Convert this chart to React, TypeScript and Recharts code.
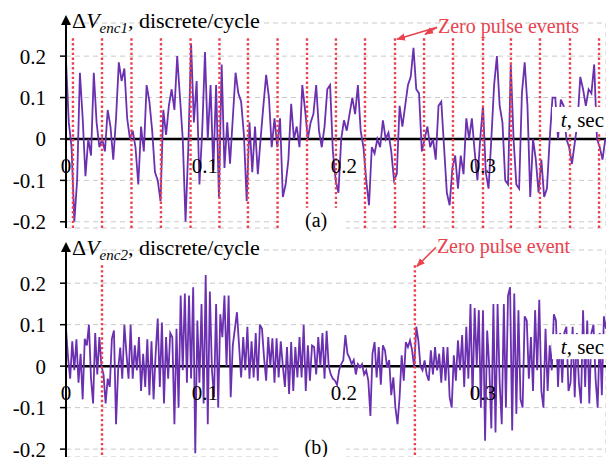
import React from 'react';
import { LineChart, Line, XAxis, YAxis, CartesianGrid, ReferenceLine, ReferenceDot } from 'recharts';

// sampling steps of the two recordings, sec
const step1 = 0.002;
const step2 = 0.0015;

// encoder 1 speed error, discrete/cycle
const enc1Values = [
  0.19, 0.04, -0.02, -0.2, -0.1, 0.16, 0.05, -0.09, 0.0, -0.04,
  0.16, 0.04, -0.02, 0.0, -0.03, 0.07, 0.03, -0.05, 0.05, 0.185,
  0.14, 0.17, 0.05, 0.0, 0.02, -0.02, -0.11, 0.03, -0.03, 0.13,
  0.09, 0.02, -0.08, -0.1, -0.15, 0.07, 0.01, 0.08, 0.12, 0.07,
  0.2, 0.1, 0.0, -0.2, -0.02, 0.23, 0.04, 0.14, -0.11, 0.02,
  0.21, 0.0, 0.13, -0.075, 0.13, -0.14, 0.18, -0.07, 0.04, -0.06,
  0.05, 0.16, 0.11, 0.09, 0.01, -0.15, 0.04, -0.08, 0.03, -0.085,
  0.0, 0.08, 0.155, 0.1, -0.02, 0.05, -0.02, 0.05, -0.14, -0.11,
  -0.05, 0.085, 0.0, 0.03, -0.02, 0.13, 0.07, 0.0, 0.04, 0.06,
  0.13, 0.02, -0.02, 0.03, 0.12, 0.13, -0.03, -0.1, -0.13, 0.0,
  0.045, 0.02, 0.06, 0.1, 0.06, 0.13, 0.02, -0.02, -0.1, -0.16,
  -0.02, -0.035, 0.0, -0.02, 0.045, 0.0, 0.015, -0.03, -0.1, -0.085,
  0.08, 0.03, 0.08, 0.13, 0.15, 0.22, 0.12, 0.11, -0.03, 0.0,
  0.03, -0.02, 0.0, -0.05, 0.08, 0.09, -0.02, -0.13, -0.16, -0.07,
  -0.04, -0.12, -0.04, -0.085, 0.05, 0.0, 0.05, -0.03, -0.1, 0.0,
  0.08, -0.08, -0.12, 0.0, 0.13, 0.2, 0.08, 0.04, -0.1, -0.11,
  0.18, 0.0, -0.11, -0.12, 0.11, 0.185, 0.08, -0.14, 0.0, -0.05,
  -0.13, -0.05, -0.14, -0.12, 0.0, 0.1, 0.1, 0.0, 0.095, 0.08,
  0.0, -0.02, -0.06, -0.01, 0.04, 0.15, 0.12, 0.08, 0.12, 0.11,
  0.18, 0.0, -0.02, -0.05, 0.0,
];

// encoder 2 speed error, discrete/cycle
const enc2Values = [
  0.09, 0.02, -0.03, 0.06, -0.01, 0.065, -0.04, 0.03, -0.08, 0.066,
  0.05, 0.1, -0.03, -0.09, 0.08, -0.02, 0.07, 0.0, -0.02, -0.09,
  -0.03, -0.05, 0.066, 0.086, -0.14, -0.01, 0.045, -0.03, 0.1, 0.03,
  -0.03, 0.1, -0.03, 0.05, -0.01, 0.07, -0.06, 0.03, -0.05, 0.065,
  -0.07, 0.06, -0.08, 0.03, 0.115, -0.05, 0.105, -0.09, 0.07, -0.03,
  0.08, 0.07, -0.14, 0.09, -0.1, 0.17, -0.01, 0.175, -0.04, 0.17,
  -0.03, 0.19, -0.21, 0.11, -0.04, 0.15, -0.09, 0.22, -0.14, 0.18,
  -0.01, -0.075, 0.15, -0.1, 0.125, 0.07, 0.17, 0.0, 0.17, -0.075,
  0.05, 0.09, 0.13, 0.05, -0.027, 0.07, -0.01, 0.095, -0.03, 0.06,
  -0.027, 0.08, -0.035, 0.1, 0.09, 0.02, -0.035, 0.07, 0.0, 0.067,
  -0.04, 0.067, -0.027, 0.06, 0.0, -0.05, 0.046, -0.067, 0.058, -0.06,
  0.046, -0.027, 0.07, -0.027, 0.1, -0.06, 0.05, -0.035, 0.05, 0.046,
  -0.02, 0.07, 0.0, 0.08, -0.03, 0.085, 0.0, -0.02, -0.03, -0.035,
  -0.045, -0.01, 0.005, 0.014, 0.075, 0.03, 0.02, 0.005, 0.015, -0.02,
  0.005, -0.003, 0.005, -0.02, -0.01, -0.035, -0.12, 0.03, 0.058, -0.027,
  0.046, -0.045, 0.05, 0.038, -0.003, 0.015, -0.07, -0.027, -0.1, -0.14,
  -0.075, 0.026, -0.035, 0.058, 0.046, 0.062, 0.038, -0.003, 0.095, 0.062,
  0.0, -0.01, 0.014, -0.02, -0.035, 0.038, -0.02, 0.046, -0.01, 0.03,
  -0.04, 0.046, -0.035, 0.046, -0.075, -0.1, 0.026, -0.035, 0.062, -0.01,
  0.075, -0.05, 0.095, -0.03, 0.15, -0.08, 0.14, 0.0, 0.135, -0.1,
  0.135, -0.18, 0.086, 0.0, -0.15, 0.15, -0.16, 0.15, -0.04, -0.14,
  0.15, -0.1, 0.17, 0.19, -0.155, 0.175, -0.115, 0.135, -0.08, -0.1,
  0.12, 0.11, -0.03, 0.07, -0.06, 0.135, -0.01, 0.16, -0.06, -0.1,
  0.09, -0.06, 0.05, -0.01, 0.125, 0.11, -0.05, 0.08, -0.04, 0.08,
  0.095, -0.06, -0.04, 0.095, -0.075, 0.08, -0.04, -0.09, 0.135, -0.05,
  0.11, -0.09, 0.08, 0.1, -0.03, -0.1, 0.08, -0.07, 0.12, 0.09,
];

// zero pulse events, sec
const enc1Events = [
  0.005, 0.0259, 0.0471, 0.0683, 0.0896, 0.1104, 0.1309, 0.1522, 0.1734, 0.1942,
  0.2151, 0.2367, 0.2576, 0.2784, 0.3, 0.3201, 0.341, 0.3626, 0.3835,
];
const enc2Events = [0.0259, 0.251];

const xTicks = [0, 0.1, 0.2, 0.3];
const xTickLabels = ['0', '0.1', '0.2', '0.3'];
const yTicks = [-0.2, -0.1, 0, 0.1, 0.2];
const yTickLabels = ['-0.2', '-0.1', '0', '0.1', '0.2'];

const data1 = enc1Values.map((v, i) => ({ t: +(i * step1).toFixed(4), v }));
const data2 = enc2Values.map((v, i) => ({ t: +(i * step2).toFixed(4), v }));

const T_MAX = 0.3885;
const EVENT_TOP = 0.243;
const SERIF = '"Liberation Serif", "Times New Roman", serif';
const RED = '#e8434f';
const PURPLE = '#6b30b0';

interface PanelProps {
  data: { t: number; v: number }[];
  events: number[];
  sub: string;
  tag: string;
  note: string;
  noteAt: number;
  secondArrowAt?: number;
  height: number;
  top: number;
  bottom: number;
  low: number;
}

const Panel: React.FC<PanelProps> = ({ data, events, sub, tag, note, noteAt, secondArrowAt, height, top, bottom, low }) => {
  return (
    <LineChart width={606} height={height} data={data} margin={{ top, right: 0, bottom, left: 0 }}
      style={{ fontFamily: SERIF }}>
      <CartesianGrid stroke="#c9c9c9" strokeDasharray="5 4" strokeWidth={1} />
      <XAxis type="number" dataKey="t" domain={[0, T_MAX]} ticks={xTicks} height={0}
        axisLine={false} tickLine={false} tick={false} allowDataOverflow />
      <YAxis type="number" domain={[low, 0.28]} ticks={yTicks} width={66} allowDataOverflow interval={0}
        tickFormatter={(v: number) => yTickLabels[yTicks.indexOf(v)] ?? String(v)}
        tick={{ fontSize: 21, fontFamily: SERIF, fill: '#000' }}
        tickSize={6} tickMargin={14}
        tickLine={{ stroke: '#000', strokeWidth: 1.5 }}
        axisLine={{ stroke: '#000', strokeWidth: 2, markerStart: 'url(#axisArrow)' }} />
      <ReferenceLine y={0} stroke="#000" strokeWidth={2.5} />
      <Line type="linear" dataKey="v" stroke={PURPLE} strokeWidth={1.8} dot={false} isAnimationActive={false} />
      {events.map((t) => (
        <ReferenceLine key={t} segment={[{ x: t, y: EVENT_TOP }, { x: t, y: low }]} stroke={RED}
          strokeWidth={2.4} strokeDasharray="2.4 2.4" ifOverflow="visible" />
      ))}
      {xTicks.map((t, i) => (
        <ReferenceDot key={'xt' + t} x={t} y={0} r={0} ifOverflow="visible"
          shape={(p: any) => (
            <text x={p.cx} y={p.cy + 34} textAnchor="middle" fontSize={21} fontFamily={SERIF} fill="#000">
              {xTickLabels[i]}
            </text>
          )} />
      ))}
      <ReferenceDot x={0} y={0.28} r={0} ifOverflow="visible"
        shape={(p: any) => (
          <text x={p.cx + 6} y={p.cy + 5} fontSize={22} fontFamily={SERIF} fill="#000">
            <tspan>Δ</tspan>
            <tspan fontStyle="italic">V</tspan>
            <tspan fontStyle="italic" fontSize={15} dy={5}>{sub}</tspan>
            <tspan dy={-5}>, discrete/cycle</tspan>
          </text>
        )} />
      <ReferenceDot x={T_MAX} y={0} r={0} ifOverflow="visible"
        shape={(p: any) => (
          <g>
            <rect x={p.cx - 54} y={p.cy - 32} width={54} height={25} fill="#fff" />
            <text x={p.cx - 2} y={p.cy - 12} textAnchor="end" fontSize={21} fontFamily={SERIF} fill="#000">
              <tspan fontStyle="italic">t</tspan>, sec
            </text>
          </g>
        )} />
      <ReferenceDot x={0.18} y={-0.2} r={0} ifOverflow="visible"
        shape={(p: any) => (
          <g>
            <rect x={p.cx - 34} y={p.cy - 14} width={64} height={26} fill="#fff" />
            <text x={p.cx} y={p.cy + 5} textAnchor="middle" fontSize={20} fontFamily={SERIF} fill="#000">{tag}</text>
          </g>
        )} />
      <ReferenceDot x={noteAt} y={EVENT_TOP} r={0} ifOverflow="visible"
        shape={(p: any) => {
          const sx = secondArrowAt !== undefined ? 42 : 21;
          const sy = secondArrowAt !== undefined ? -11 : -18;
          const gap = secondArrowAt !== undefined ? (secondArrowAt - noteAt) * 1390 : 0;
          return (
            <g>
              <line x1={p.cx + sx} y1={p.cy + sy} x2={p.cx + 2} y2={p.cy + 1} stroke={RED} strokeWidth={1.5} markerEnd="url(#redArrow)" />
              {secondArrowAt !== undefined && (
                <line x1={p.cx + sx} y1={p.cy + sy} x2={p.cx + gap + 1} y2={p.cy - 4} stroke={RED} strokeWidth={1.5} markerEnd="url(#redArrow)" />
              )}
              <text x={p.cx + sx + 1} y={p.cy + sy + 6} fontSize={20} fontFamily={SERIF} fill={RED}>{note}</text>
            </g>
          );
        }} />
    </LineChart>
  );
};

export default function App() {
  return (
    <div style={{ position: 'absolute', left: 0, top: 0, width: 606, height: 457, background: '#fff', overflow: 'hidden' }}>
      <svg width={0} height={0} style={{ position: 'absolute' }}>
        <defs>
          <marker id="axisArrow" viewBox="0 0 10 10" refX={2} refY={5} markerWidth={5} markerHeight={5} orient="auto-start-reverse">
            <path d="M0,0 L10,5 L0,10 z" fill="#000" />
          </marker>
          <marker id="redArrow" viewBox="0 0 10 10" refX={9} refY={5} markerWidth={6} markerHeight={6} orient="auto">
            <path d="M0,1 L10,5 L0,9 z" fill={RED} />
          </marker>
        </defs>
      </svg>
      <div style={{ position: 'absolute', left: 0, top: 229 }}>
        <Panel data={data2} events={enc2Events} sub="enc2" tag="(b)" note="Zero pulse event"
          noteAt={0.251} height={231} top={21} bottom={3} low={-0.219} />
      </div>
      <div style={{ position: 'absolute', left: 0, top: 0 }}>
        <Panel data={data1} events={enc1Events} sub="enc1" tag="(a)" note="Zero pulse events"
          noteAt={0.2367} secondArrowAt={0.2576} height={234} top={23} bottom={6} low={-0.215} />
      </div>
    </div>
  );
}
